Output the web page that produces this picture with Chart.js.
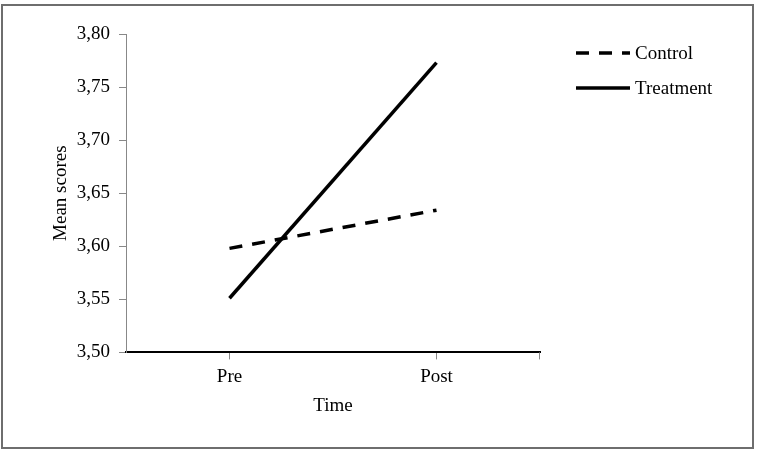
<!DOCTYPE html>
<html>
<head>
<meta charset="utf-8">
<script src="https://cdn.jsdelivr.net/npm/chart.js@4.4.0/dist/chart.umd.min.js"></script>
<style>
  html, body { margin: 0; padding: 0; background: #fff; }
  #wrap { position: relative; width: 759px; height: 454px; }
  #frame { position: absolute; left: 1px; top: 4px; width: 749px; height: 441px; border: 2px solid #6e6e6e; pointer-events: none; }
</style>
</head>
<body>
<div id="wrap">
  <canvas id="grafico" width="759" height="454"></canvas>
  <div id="frame"></div>
</div>
<script>
// Momentos de medida
const momentos = ["Pre", "Post"];
// Medias por grupo
const control = [3.598, 3.634];
const tratamiento = [3.551, 3.773];
// Eje Y
const yMin = 3.50;
const yMax = 3.80;
const yPaso = 0.05;

const fuente = '"Liberation Serif", "Times New Roman", serif';
const tam = 19;

/* Leyenda dibujada a mano a la derecha del grafico, con el trazo de cada serie */
const leyendaDerecha = {
  id: 'leyendaDerecha',
  afterDraw(chart) {
    const c = chart.ctx;
    const area = chart.chartArea;
    const x0 = area.right + 36;
    c.save();
    chart.data.datasets.forEach((ds, i) => {
      const y = area.top + 19 + i * 35;
      c.beginPath();
      c.setLineDash(ds.borderDash || []);
      c.lineWidth = ds.borderWidth;
      c.strokeStyle = ds.borderColor;
      c.moveTo(x0, y);
      c.lineTo(x0 + 54, y);
      c.stroke();
      c.setLineDash([]);
      c.fillStyle = '#000';
      c.font = tam + 'px ' + fuente;
      c.textBaseline = 'middle';
      c.fillText(ds.label, x0 + 59, y + 1);
    });
    // marca final del eje X
    const ejeX = chart.scales.x;
    c.beginPath();
    c.lineWidth = 1;
    c.strokeStyle = '#888';
    c.moveTo(area.right - 0.5, ejeX.top);
    c.lineTo(area.right - 0.5, ejeX.top + 7);
    c.stroke();
    c.restore();
  }
};

var ctx = document.getElementById('grafico').getContext('2d');

var grafico = new Chart(ctx, {
  type: 'line',
  plugins: [leyendaDerecha],
  data: {
    labels: momentos,
    datasets: [{
      label: "Control",
      data: control,
      borderColor: "#000",
      backgroundColor: "#000",
      borderWidth: 3.5,
      borderDash: [13, 10],
      pointRadius: 0,
      tension: 0,
    }, {
      label: "Treatment",
      data: tratamiento,
      borderColor: "#000",
      backgroundColor: "#000",
      borderWidth: 3.5,
      pointRadius: 0,
      tension: 0,
    }],
  },
  options: {
    responsive: false,
    animation: false,
    layout: {
      padding: { top: 34, left: 50, right: 219, bottom: 35 }
    },
    plugins: {
      tooltip: { enabled: false },
      legend: { display: false },
    },
    scales: {
      x: {
        offset: true,
        border: { display: true, color: '#000', width: 2 },
        grid: { display: true, drawOnChartArea: false, drawTicks: true, tickLength: 7, color: '#888', offset: false },
        ticks: { color: '#000', font: { family: fuente, size: tam }, padding: 6 },
        title: { display: true, text: 'Time', color: '#000', font: { family: fuente, size: tam }, padding: { top: 0, bottom: 2 } },
      },
      y: {
        min: yMin,
        max: yMax,
        border: { display: true, color: '#888', width: 1 },
        grid: { display: true, drawOnChartArea: false, drawTicks: true, tickLength: 7, color: '#888' },
        ticks: {
          stepSize: yPaso,
          color: '#000',
          font: { family: fuente, size: tam },
          padding: 9,
          /* coma decimal */
          callback: (v) => v.toFixed(2).replace('.', ','),
        },
        title: { display: true, text: 'Mean scores', color: '#000', font: { family: fuente, size: tam }, padding: { top: 0, bottom: 0 } },
        /* ancho fijo del eje para que el grafico empiece donde en el original */
        afterFit: (escala) => { escala.width = 76; },
      },
    }
  }
});
</script>
</body>
</html>
